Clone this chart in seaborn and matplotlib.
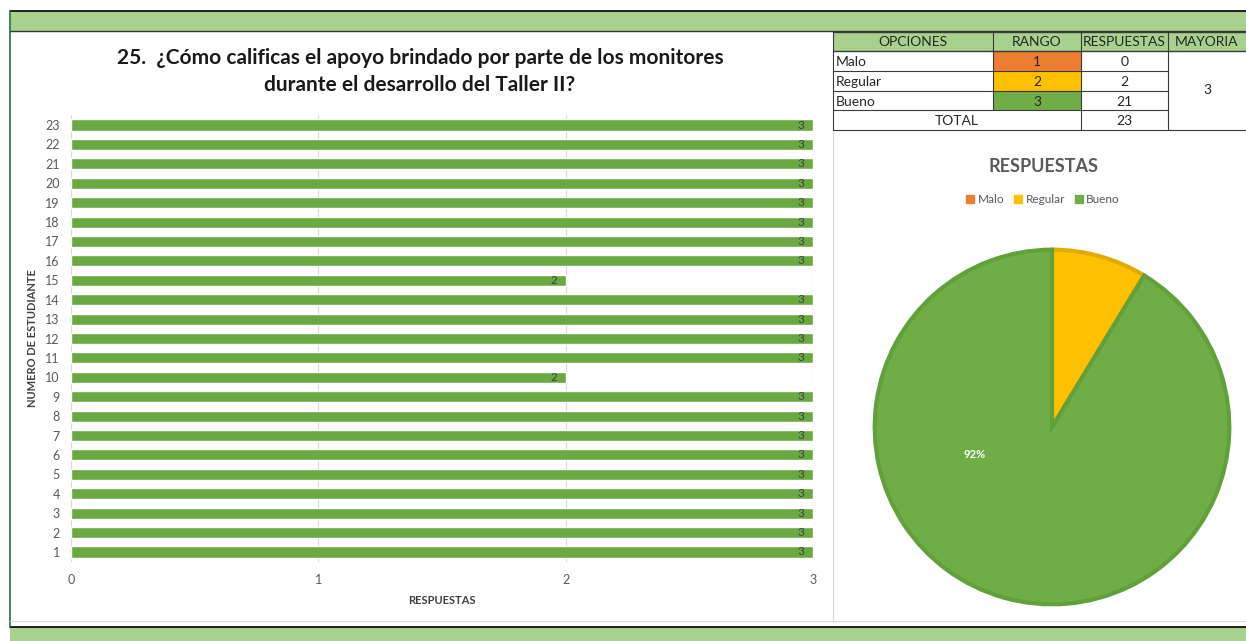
import matplotlib
matplotlib.use('Agg')
import matplotlib.pyplot as plt
import matplotlib.patches as mpatches
import seaborn as sns
import pandas as pd

# datos
estudiantes = list(range(1, 24))
puntajes = [3, 3, 3, 3, 3, 3, 3, 3, 3, 2, 3, 3, 3, 3, 2, 3, 3, 3, 3, 3, 3, 3, 3]
opciones = ['Malo', 'Regular', 'Bueno']
rangos = [1, 2, 3]
colores = ['#ED7D31', '#FFC000', '#70AD47']
bordes = ['#ED7D31', '#E3AA00', '#62A03B']
etiqueta_pie = '92%'

respuestas = [puntajes.count(r) for r in rangos]
total = sum(respuestas)
mayoria = rangos[respuestas.index(max(respuestas))]

titulo = ('25.  ¿Cómo calificas el apoyo brindado por parte de los monitores\n'
          'durante el desarrollo del Taller II?')

sns.set_style('white')
plt.rcParams['font.family'] = ['Lato', 'DejaVu Sans']

W, H = 1246, 641
fig = plt.figure(figsize=(W / 100, H / 100), dpi=100)

# fondo tipo hoja de calculo
bg = fig.add_axes([0, 0, 1, 1])
bg.set_xlim(0, W)
bg.set_ylim(H, 0)
bg.axis('off')
verde_claro = '#A9D18E'
bg.add_patch(mpatches.Rectangle((10, 11), W - 10, 20, color=verde_claro, lw=0))
bg.add_patch(mpatches.Rectangle((10, 627), W - 10, 14, color=verde_claro, lw=0))
bg.plot([10, W], [11, 11], color='black', lw=1.2)
bg.plot([10, W], [31, 31], color='#333333', lw=1)
bg.plot([10, W], [627, 627], color='black', lw=1.2)
bg.plot([10, 10], [11, 627], color='#217346', lw=1.2)
bg.plot([833, 833], [130, 622], color='#D9D9D9', lw=0.8)
bg.plot([10, W], [621, 621], color='#D9D9D9', lw=0.8)

# tabla
cx = [833, 993, 1081, 1168, 1246]
ry = [32, 51, 71, 91, 110, 130]
bg.add_patch(mpatches.Rectangle((cx[0], ry[0]), cx[-1] - cx[0], ry[1] - ry[0], color=verde_claro, lw=0))
for i, c in enumerate(colores):
    bg.add_patch(mpatches.Rectangle((cx[1], ry[i + 1]), cx[2] - cx[1], ry[i + 2] - ry[i + 1], color=c, lw=0))

lc = '#3a3a3a'
bg.plot([cx[0], cx[-1]], [ry[0], ry[0]], color=lc, lw=1)
bg.plot([cx[0], cx[-1]], [ry[1], ry[1]], color=lc, lw=1)
for y in ry[2:5]:
    bg.plot([cx[0], cx[3]], [y, y], color=lc, lw=0.8)
bg.plot([cx[0], cx[-1]], [ry[5], ry[5]], color=lc, lw=0.8)
bg.plot([cx[0], cx[0]], [ry[0], ry[5]], color=lc, lw=0.8)
bg.plot([cx[1], cx[1]], [ry[0], ry[4]], color=lc, lw=0.8)
bg.plot([cx[2], cx[2]], [ry[0], ry[5]], color=lc, lw=0.8)
bg.plot([cx[3], cx[3]], [ry[0], ry[5]], color=lc, lw=0.8)

fs_tab = 10
encabezados = ['OPCIONES', 'RANGO', 'RESPUESTAS', 'MAYORIA']
for j, t in enumerate(encabezados):
    bg.text((cx[j] + cx[j + 1]) / 2, (ry[0] + ry[1]) / 2 + 1, t, ha='center', va='center', fontsize=fs_tab)
for i in range(3):
    ym = (ry[i + 1] + ry[i + 2]) / 2 + 1
    bg.text(cx[0] + 3, ym, opciones[i], ha='left', va='center', fontsize=fs_tab)
    bg.text((cx[1] + cx[2]) / 2, ym, str(rangos[i]), ha='center', va='center', fontsize=fs_tab)
    bg.text((cx[2] + cx[3]) / 2, ym, str(respuestas[i]), ha='center', va='center', fontsize=fs_tab)
bg.text((cx[0] + cx[2]) / 2, (ry[4] + ry[5]) / 2 + 1, 'TOTAL', ha='center', va='center', fontsize=fs_tab)
bg.text((cx[2] + cx[3]) / 2, (ry[4] + ry[5]) / 2 + 1, str(total), ha='center', va='center', fontsize=fs_tab)
bg.text((cx[3] + cx[4]) / 2, (ry[1] + ry[5]) / 2, str(mayoria), ha='center', va='center', fontsize=fs_tab)

# grafico de barras
ax = fig.add_axes([71 / W, 1 - 561.7 / H, (813 - 71) / W, (561.7 - 115.3) / H])
df = pd.DataFrame({'estudiante': [str(e) for e in estudiantes], 'respuestas': puntajes})
orden = [str(e) for e in reversed(estudiantes)]
sns.barplot(data=df, x='respuestas', y='estudiante', order=orden, color='#6AA842',
            saturation=1, width=0.57, ax=ax)
ax.set_xlim(0, 3)
ax.set_xticks([0, 1, 2, 3])
ax.grid(axis='x', color='#D9D9D9', lw=0.8)
ax.grid(axis='y', visible=False)
sns.despine(ax=ax, left=True, bottom=True)
ax.tick_params(axis='x', length=0, pad=9, labelsize=9, labelcolor='#595959')
ax.tick_params(axis='y', length=0, pad=8, labelsize=9, labelcolor='#595959')
ax.bar_label(ax.containers[0], padding=-11, fontsize=8.5, color='#404040')
ax.set_xlabel('RESPUESTAS', fontsize=8, fontweight='bold', color='#404040', labelpad=6)
ax.set_ylabel('NUMERO DE ESTUDIANTE', fontsize=8, fontweight='bold', color='#404040', labelpad=5)

fig.text(420 / W, 1 - 71.5 / H, titulo, ha='center', va='center', fontsize=15,
         fontweight='bold', linespacing=1.4, color='#1a1a1a')

# grafico circular
pax = fig.add_axes([(1052 - 180) / W, 1 - (427 + 180) / H, 360 / W, 360 / H])
wedges, _ = pax.pie(respuestas, colors=colores, startangle=90, counterclock=False,
                    radius=0.985, wedgeprops={'linewidth': 3})
for w, b, v in zip(wedges, bordes, respuestas):
    w.set_edgecolor(b)
    if v == 0:
        w.set_linewidth(0)
pax.set_xlim(-1, 1)
pax.set_ylim(-1, 1)
pax.text(-0.43, -0.15, etiqueta_pie, ha='center', va='center', fontsize=8,
         fontweight='bold', color='white')

fig.text(1043 / W, 1 - 167 / H, 'RESPUESTAS', ha='center', va='center', fontsize=13,
         fontweight='bold', color='#595959')
handles = [mpatches.Patch(color=c) for c in colores]
fig.legend(handles, opciones, loc='center', bbox_to_anchor=(1043 / W, 1 - 200 / H), ncol=3,
           frameon=False, fontsize=8.5, handlelength=0.7, handleheight=0.7,
           columnspacing=0.8, handletextpad=0.3, labelcolor='#595959')

fig.savefig('out.png', dpi=100)
